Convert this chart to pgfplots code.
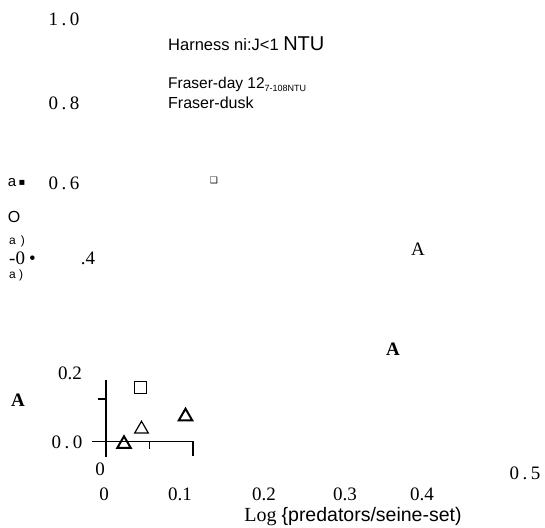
\documentclass[border=0pt]{standalone}
\usepackage{pgfplots}
\pgfplotsset{compat=1.18}
\usepackage{fontspec}
\setmainfont{Liberation Serif}
\newfontfamily\arial{Liberation Sans}
\newfontfamily\dejavu{DejaVu Sans}
\newcommand{\sz}[1]{\fontsize{#1}{#1}\selectfont}
\newcommand{\spc}[3]{#1\hspace{3.5pt}#2\hspace{3.5pt}#3}
\begin{document}
\begin{tikzpicture}
\useasboundingbox (0pt,0pt) rectangle (545pt,-527pt);
\begin{axis}[at={(92pt,-457pt)}, anchor=south west, scale only axis,
  width=101pt, height=77pt, xmin=-0.0161, xmax=0.1, ymin=-0.019, ymax=0.0727,
  hide axis, clip=false]
\draw[line width=1.7pt] (axis cs:0,-0.019) -- (axis cs:0,0.0727);
\draw[line width=1.1pt] (axis cs:0,0) -- (axis cs:0.1,0);
\draw[line width=0.8pt] (axis cs:-0.0161,0) -- (axis cs:0,0);
\draw[line width=0.9pt] (axis cs:0.05,0) -- (axis cs:0.05,-0.0095);
\draw[line width=1.3pt] (axis cs:0.1,0) -- (axis cs:0.1,-0.0179);
\draw[line width=1.5pt] (axis cs:0,0.05) -- (axis cs:-0.0092,0.05);
\addplot[only marks, mark=triangle, mark size=7.8pt, mark options={line width=2pt, solid, black}] coordinates {(0.0207,-0.0036) (0.0914,0.0292)};
\addplot[only marks, mark=triangle, mark size=7.8pt, mark options={line width=1.2pt, solid, black}] coordinates {(0.0408,0.0143)};
\addplot[only marks, mark=square, mark size=5.8pt, mark options={line width=1.3pt, solid, black}] coordinates {(0.0397,0.0637)};
\end{axis}
\begin{scope}[x=1pt,y=-1pt]
\node at (64,19) {\sz{19}\spc{1}{.}{0}};
\node[anchor=west, inner sep=0pt] at (168,44) {\arial\sz{16.5}Harness ni:J<1 {\sz{20}NTU}};
\node[anchor=west, inner sep=0pt] at (168,84) {\arial\sz{15.5}Fraser-day 12\raisebox{-3pt}{\sz{9}7-108NTU}};
\node at (64,103) {\sz{19}\spc{0}{.}{8}};
\node[anchor=west, inner sep=0pt] at (168,103) {\arial\sz{16}Fraser-dusk};
\node at (12,183) {\arial\sz{15}a};
\node at (22,183) {\dejavu\sz{10}▪};
\node at (64,183) {\sz{19}\spc{0}{.}{6}};
\node at (214,180) {\dejavu\sz{9}❑};
\node at (14,217) {\arial\sz{16}O};
\node[anchor=west, inner sep=0pt] at (9,241) {\arial\sz{12}a\hspace{5pt})};
\node[anchor=west, inner sep=0pt] at (9,258) {\sz{19}-0\hspace{4pt}•};
\node at (88,258) {\sz{19}.4};
\node[anchor=west, inner sep=0pt] at (9,275) {\arial\sz{12}a )};
\node at (418,249) {\sz{19}A};
\node at (70,373) {\sz{19}0.2};
\node at (393,349) {\bfseries\sz{19}A};
\node at (18,400) {\bfseries\sz{19}A};
\node at (67,442) {\sz{19}\spc{0}{.}{0}};
\node at (100,469) {\sz{19}0};
\node at (525,473) {\sz{19}\spc{0}{.}{5}};
\node at (104,494) {\sz{19}0};
\node at (180,494) {\sz{19}0.1};
\node at (264,494) {\sz{19}0.2};
\node at (345,494) {\sz{19}0.3};
\node at (422,494) {\sz{19}0.4};
\node at (353,517) {\sz{20}Log {\arial\sz{19.5}\{predators/seine-set)}};
\end{scope}
\end{tikzpicture}
\end{document}
